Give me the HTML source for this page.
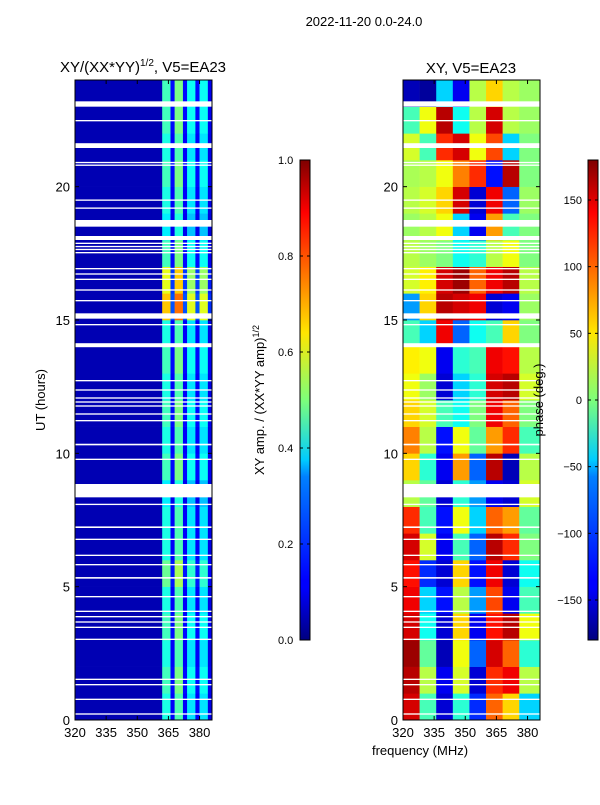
<!DOCTYPE html>
<html><head><meta charset="utf-8"><style>
body{margin:0;background:#fff;width:600px;height:800px;overflow:hidden;font-family:"Liberation Sans",sans-serif;}
svg text{font-family:"Liberation Sans",sans-serif;fill:#000;}
</style></head><body>
<svg id="fig" width="600" height="800" xmlns="http://www.w3.org/2000/svg">
<defs>
<linearGradient id="jet" x1="0" y1="1" x2="0" y2="0">
<stop offset="0" stop-color="#00007f"/><stop offset="0.11" stop-color="#0000ff"/><stop offset="0.125" stop-color="#0000ff"/>
<stop offset="0.34" stop-color="#0080ff"/><stop offset="0.375" stop-color="#00ccff"/><stop offset="0.5" stop-color="#7dff7a"/>
<stop offset="0.64" stop-color="#ffe600"/><stop offset="0.75" stop-color="#ff8000"/><stop offset="0.89" stop-color="#ff0000"/><stop offset="1" stop-color="#7f0000"/>
</linearGradient>
</defs>
<text x="364" y="26" font-size="13" text-anchor="middle">2022-11-20 0.0-24.0</text>
<text x="143" y="72" font-size="15" text-anchor="middle">XY/(XX*YY)<tspan font-size="10" dy="-6">1/2</tspan><tspan dy="6">, V5=EA23</tspan></text>
<text x="471" y="73" font-size="15" text-anchor="middle">XY, V5=EA23</text>
<g id="left"></g>
<g id="right"></g>
<text transform="translate(45,400) rotate(-90)" font-size="13" text-anchor="middle">UT (hours)</text>
<text x="420" y="755" font-size="13" text-anchor="middle">frequency (MHz)</text>
<rect x="300" y="160" width="10" height="480" fill="url(#jet)" stroke="#000" stroke-width="1"/>
<rect x="588" y="160" width="10" height="480" fill="url(#jet)" stroke="#000" stroke-width="1"/>
<g id="cb1"></g>
<g id="cb2"></g>
<text transform="translate(264,400) rotate(-90)" font-size="13" text-anchor="middle">XY amp. / (XX*YY amp)<tspan font-size="9" dy="-5">1/2</tspan></text>
<text transform="translate(543,400) rotate(-90)" font-size="13" text-anchor="middle">phase (deg.)</text>
</svg>
<script>
const xTicks=[320,335,350,365,380];
const yTicks=[0,5,10,15,20];
const ampColEdges=[320,362,366,368,372,374,378,380,384,386];
const ampColValues=[0.05,0.4,0.12,0.45,0.12,0.35,0.12,0.35,0.1];
const ampRowMult=[1,1.1,1,1.1,1,1.2,1,1,0.9,1.1,1,1.1,1,1.1,1,1.7,1.5,1.1,0.9,1,1.1,1,1.1,1.1];
const phaseColEdges=[320,328,336,344,352,360,368,376,386];
const phaseGrid=[
[150,-20,-150,-30,-120,100,60,-60],[160,20,-140,30,-150,120,140,20],[170,-10,-160,40,-100,150,100,-30],
[150,-40,-150,60,-140,130,160,40],[140,-60,-130,20,-80,110,-140,-20],[130,-120,-150,60,-130,140,-150,-40],
[150,30,-140,-20,-100,160,120,0],[120,-20,-130,40,-60,100,80,-10],[20,-10,-150,-30,-80,-140,-150,30],
[60,-30,-140,80,-100,160,-160,20],[90,20,-130,40,-10,80,120,-20],[60,30,-20,-40,0,140,100,0],
[40,10,-150,-60,-30,150,160,30],[50,40,-140,-30,-20,140,130,20],[-20,-60,140,-100,-40,-20,60,0],
[-80,60,160,150,140,-150,-140,10],[30,50,150,170,100,140,160,20],[20,10,0,-40,-30,20,40,0],
[10,20,40,-60,-140,80,-20,0],[20,30,60,150,-150,140,-100,10],[15,20,40,90,120,-130,160,0],
[30,-20,120,150,40,110,-60,0],[-20,40,160,-40,20,150,20,10],[-160,-170,-60,-140,20,60,20,10]];
const gaps=[[23.0,23.2],[22.45,22.5],[21.45,21.63],[20.88,20.93],[20.78,20.83],[19.47,19.52],[19.17,19.22],[18.5,18.75],
[18.0,18.15],[17.85,17.9],[17.73,17.78],[17.62,17.67],[17.5,17.55],[16.9,16.95],[16.7,16.75],[16.5,16.55],[16.1,16.15],[15.7,15.75],
[15.05,15.25],[14.8,14.85],[13.98,14.13],[12.7,12.75],[12.35,12.4],[12.05,12.1],[11.9,11.95],[11.75,11.8],[11.45,11.5],[11.2,11.25],
[10.3,10.36],[9.75,9.8],[8.35,8.85],[8.06,8.11],[7.2,7.26],[6.75,6.8],[6.15,6.2],[5.8,5.85],[5.3,5.36],[4.6,4.65],
[4.05,4.1],[3.85,3.9],[3.65,3.7],[3.45,3.5],[3.0,3.05],[1.5,1.55],[1.3,1.35],[0.75,0.8],[0.2,0.25]];
const NS="http://www.w3.org/2000/svg";
function jet(v){v=Math.max(0,Math.min(1,v));
 const r=Math.max(0,Math.min(1,1.5-Math.abs(4*v-3))),g=Math.max(0,Math.min(1,1.5-Math.abs(4*v-2))),b=Math.max(0,Math.min(1,1.5-Math.abs(4*v-1)));
 return `rgb(${Math.round(r*255)},${Math.round(g*255)},${Math.round(b*255)})`;}
function mk(tag,attrs,parent){const e=document.createElementNS(NS,tag);for(const k in attrs)e.setAttribute(k,attrs[k]);parent.appendChild(e);return e;}
function panel(g,x0,x1){
 const y0=80,y1=720;
 return {x:f=>x0+(f-320)*(x1-x0)/(386-320),y:h=>y1-h*(y1-y0)/24,x0,x1,y0,y1};
}
function axes(g,P){
 for(const gp of gaps){const r=mk('rect',{x:P.x0,y:P.y(gp[1]),width:P.x1-P.x0,height:P.y(gp[0])-P.y(gp[1]),fill:'#fff'},g);
  
  }
 const fr=mk('rect',{x:P.x0,y:P.y0,width:P.x1-P.x0,height:P.y1-P.y0,fill:'none',stroke:'#000','stroke-width':1},g);
 
 
 for(const t of xTicks){const x=P.x(t);
  mk('line',{x1:x,x2:x,y1:P.y1,y2:P.y1-4,stroke:'#000'},g);mk('line',{x1:x,x2:x,y1:P.y0,y2:P.y0+4,stroke:'#000'},g);
  const tx=mk('text',{x:x,y:P.y1+17,'font-size':13,'text-anchor':'middle'},g);tx.textContent=t;
  
  }
 for(const t of yTicks){const y=P.y(t);
  mk('line',{x1:P.x0,x2:P.x0+4,y1:y,y2:y,stroke:'#000'},g);mk('line',{x1:P.x1,x2:P.x1-4,y1:y,y2:y,stroke:'#000'},g);
  const tx=mk('text',{x:P.x0-5,y:y+5,'font-size':13,'text-anchor':'end'},g);tx.textContent=t;
  
  }
}
const L=document.getElementById('left'),PL=panel(L,75,212);
for(let h=0;h<24;h++)for(let c=0;c<ampColValues.length;c++){
 const r=mk('rect',{x:PL.x(ampColEdges[c]),y:PL.y(h+1),width:PL.x(ampColEdges[c+1])-PL.x(ampColEdges[c])+0.3,height:PL.y(h)-PL.y(h+1)+0.3,fill:jet(ampColValues[c]*(c===0?1:ampRowMult[h]))},L);
 
 }
axes(L,PL);
const R=document.getElementById('right'),PR=panel(R,403,540);
for(let h=0;h<24;h++)for(let c=0;c<8;c++){
 const r=mk('rect',{x:PR.x(phaseColEdges[c]),y:PR.y(h+1),width:PR.x(phaseColEdges[c+1])-PR.x(phaseColEdges[c])+0.3,height:PR.y(h)-PR.y(h+1)+0.3,fill:jet((phaseGrid[h][c]+180)/360)},R);
 
 }
axes(R,PR);
const cb1=document.getElementById('cb1');
for(const v of [0,0.2,0.4,0.6,0.8,1.0]){const y=640-v*480;
 mk('line',{x1:300,x2:303,y1:y,y2:y,stroke:'#000'},cb1);mk('line',{x1:310,x2:307,y1:y,y2:y,stroke:'#000'},cb1);
 const t=mk('text',{x:278,y:y+4,'font-size':11},cb1);t.textContent=v.toFixed(1);
 
 }
const cb2=document.getElementById('cb2');
for(const v of [-150,-100,-50,0,50,100,150]){const y=640-(v+180)/360*480;
 mk('line',{x1:588,x2:591,y1:y,y2:y,stroke:'#000'},cb2);mk('line',{x1:598,x2:595,y1:y,y2:y,stroke:'#000'},cb2);
 const t=mk('text',{x:582,y:y+4,'font-size':11,'text-anchor':'end'},cb2);t.textContent=v<0?'\u2212'+(-v):v;
 
 }
</script>
</body></html>
